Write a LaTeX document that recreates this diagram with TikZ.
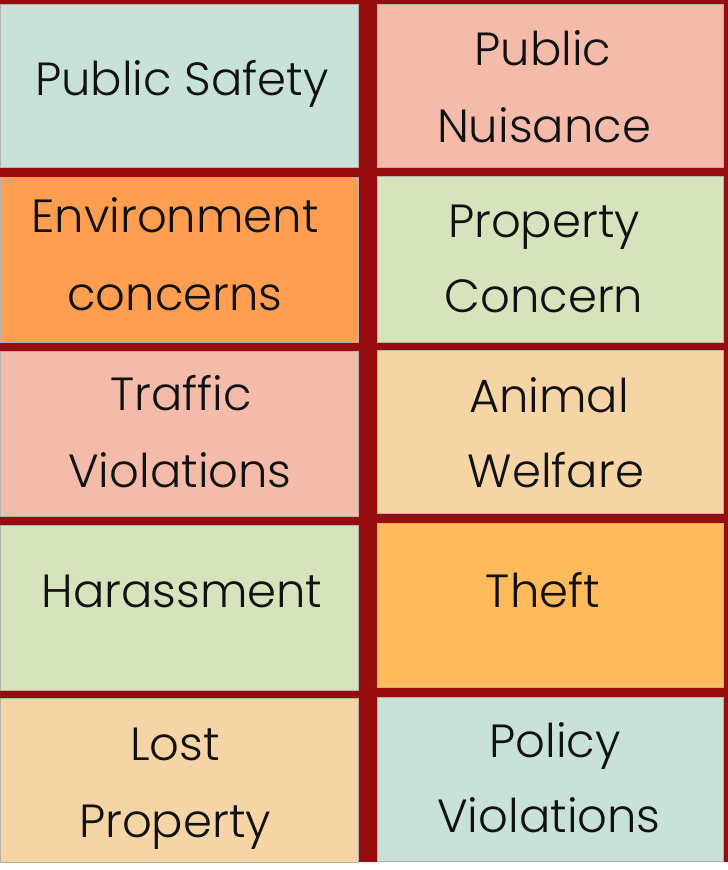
\documentclass[tikz,border=0pt]{standalone}
\usepackage{fontspec}
\setmainfont{Poppins}[UprightFont={* Light}]
\definecolor{bgred}{HTML}{970C0C}
\definecolor{cmint}{HTML}{C9E2D9}
\definecolor{csalmon}{HTML}{F4BBAA}
\definecolor{corange}{HTML}{FF9D50}
\definecolor{csage}{HTML}{D7E3BC}
\definecolor{cpeach}{HTML}{F5D5A6}
\definecolor{ctheft}{HTML}{FFBA5C}
\definecolor{ctext}{HTML}{111111}
\tikzset{
  cell/.style={draw=black!30, line width=0.5pt},
  lbl/.style={anchor=base, inner sep=0pt, text=ctext, font=\fontsize{46.5}{46.5}\selectfont}
}
\begin{document}
\begin{tikzpicture}[x=1pt,y=-1pt]
\useasboundingbox (0,0) rectangle (728,870);
\fill[white] (0,0) rectangle (728,870);
\fill[bgred] (0,0) rectangle (728,862);
% left column
\path[cell, fill=cmint]   (0,4)   rectangle (358,167) node[coordinate] (c11) {};
\path[cell, fill=corange] (0,177) rectangle (358,342) node[coordinate] (c21) {};
\path[cell, fill=csalmon] (0,351) rectangle (358,516) node[coordinate] (c31) {};
\path[cell, fill=csage]   (0,525) rectangle (358,690) node[coordinate] (c41) {};
\path[cell, fill=cpeach]  (0,698) rectangle (358,862) node[coordinate] (c51) {};
% right column
\path[cell, fill=csalmon] (377,4)   rectangle (723,167) node[coordinate] (c12) {};
\path[cell, fill=csage]   (377,176) rectangle (723,342) node[coordinate] (c22) {};
\path[cell, fill=cpeach]  (377,350) rectangle (723,513) node[coordinate] (c32) {};
\path[cell, fill=ctheft]  (377,523) rectangle (723,687) node[coordinate] (c42) {};
\path[cell, fill=cmint]   (377,697) rectangle (723,861) node[coordinate] (c52) {};
% labels
\node[lbl] (t1)  at (182,95)  {Public Safety};
\node[lbl] (t2a) at (543,65)  {Public};
\node[lbl] (t2b) at (544,142) {Nuisance};
\node[lbl] (t3a) at (175,232) {Environment};
\node[lbl] (t3b) at (175,310) {concerns};
\node[lbl] (t4a) at (544,237) {Property};
\node[lbl] (t4b) at (544,312) {Concern};
\node[lbl] (t5a) at (181,410) {Traffic};
\node[lbl] (t5b) at (180,487) {Violations};
\node[lbl] (t6a) at (549,412) {Animal};
\node[lbl] (t6b) at (556,487) {Welfare};
\node[lbl] (t7)  at (182,607) {Harassment};
\node[lbl] (t8)  at (543,607) {Theft};
\node[lbl] (t9a) at (175,760) {Lost};
\node[lbl] (t9b) at (175,837) {Property};
\node[lbl] (t10a) at (555,757) {Policy};
\node[lbl] (t10b) at (549,832) {Violations};
\end{tikzpicture}
\end{document}
